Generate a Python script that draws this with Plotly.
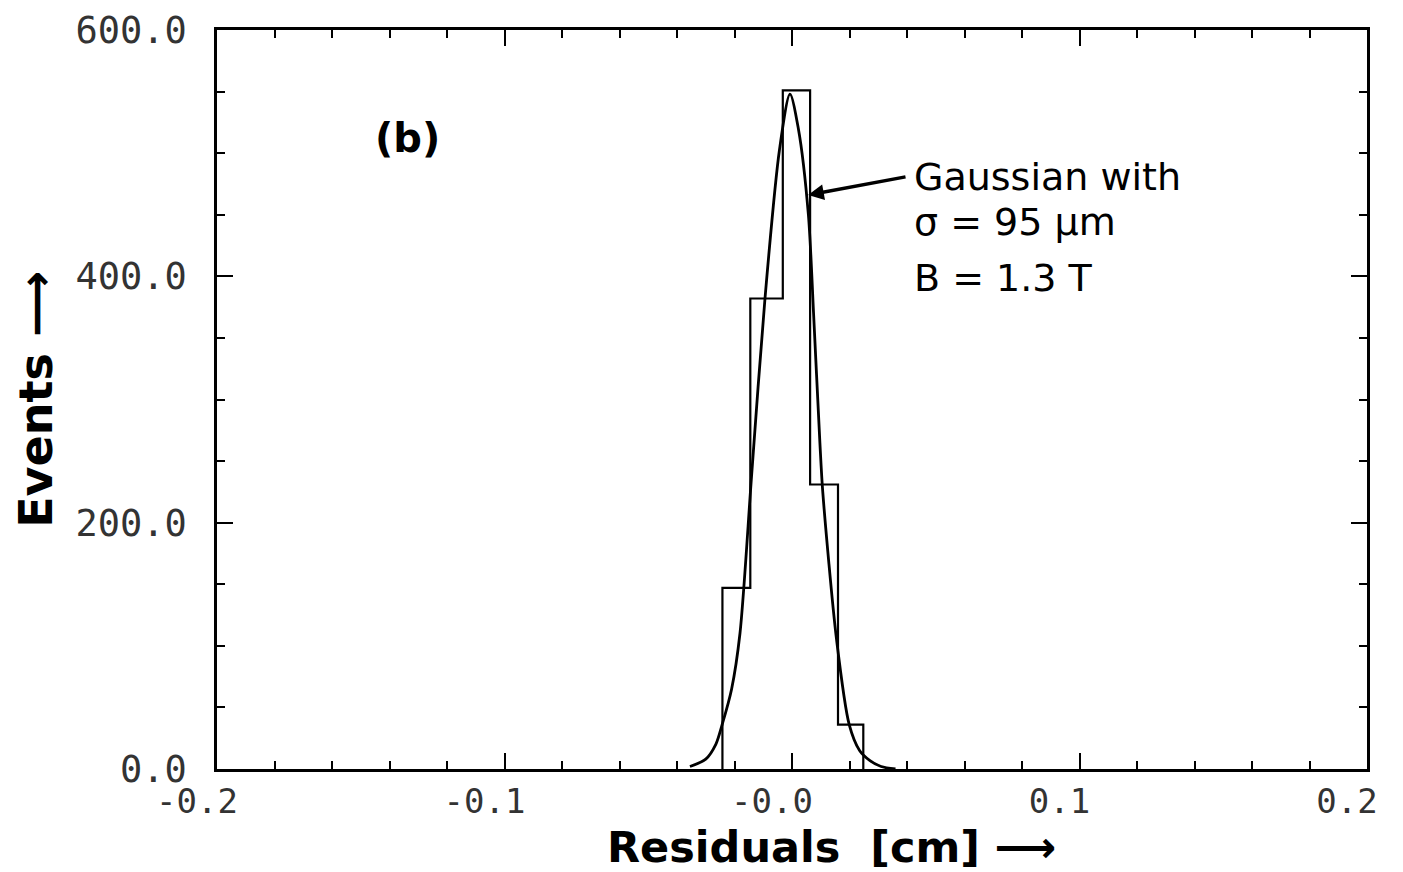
import plotly.graph_objects as go

# histogram of residuals (bin edges in cm, counts per bin)
bin_edges = [-0.0242, -0.0145, -0.0032, 0.0063, 0.0160, 0.0248]
counts = [147, 382, 551, 231, 36]

# gaussian fit
fit_x = [-0.0355, -0.030, -0.0265, -0.0243, -0.0210, -0.0181, -0.0140, -0.0094,
         -0.0044, -0.0007, 0.0022, 0.0057, 0.0075, 0.0097, 0.0107, 0.0155,
         0.0199, 0.0235, 0.0270, 0.031, 0.036]
fit_y = [2, 8, 20, 36, 65, 110, 240, 382,
         502, 548, 520, 450, 370, 265, 225, 105,
         36, 15, 7, 2, 0]

x_ticks = [-0.2, -0.1, 0.0, 0.1, 0.2]
x_labels = ["-0.2", "-0.1", "-0.0", "0.1", "0.2"]
y_ticks = [0, 200, 400, 600]
y_labels = ["0.0", "200.0", "400.0", "600.0"]

# closed step outline of the histogram
step_x = [bin_edges[0]] + bin_edges + [bin_edges[-1]]
step_y = [0] + counts + [counts[-1], 0]

fig = go.Figure()
fig.add_trace(
    go.Scatter(
        x=step_x,
        y=step_y,
        mode="lines",
        line=dict(color="black", width=2.2, shape="hv"),
        showlegend=False,
    ),
)
fig.add_trace(
    go.Scatter(
        x=fit_x,
        y=fit_y,
        mode="lines",
        line=dict(color="black", width=2.8, shape="spline", smoothing=0.8),
        showlegend=False,
    ),
)

txt_font = dict(family="DejaVu Sans", size=38, color="black")
fig.add_annotation(x=-0.1336, y=512, text="<b>(b)</b>", showarrow=False,
                   font=dict(family="DejaVu Sans", size=40, color="black"))
fig.add_annotation(x=0.0056, y=466, ax=0.0400, ay=481, axref="x", ayref="y",
                   text="", showarrow=True, arrowhead=2, arrowwidth=3.5,
                   arrowsize=0.9, arrowcolor="black")
fig.add_annotation(x=0.0417, y=481, text="Gaussian with", showarrow=False,
                   xanchor="left", yanchor="middle", font=txt_font)
fig.add_annotation(x=0.0417, y=444, text="σ = 95 µm", showarrow=False,
                   xanchor="left", yanchor="middle", font=txt_font)
fig.add_annotation(x=0.0417, y=399, text="B = 1.3 T", showarrow=False,
                   xanchor="left", yanchor="middle", font=txt_font)

# axis titles
fig.add_annotation(x=0.535, y=-0.106, xref="paper", yref="paper",
                   xanchor="center", yanchor="middle",
                   text="<b>Residuals  [cm] ⟶</b>", showarrow=False,
                   font=dict(family="DejaVu Sans", size=43, color="black"))
fig.add_annotation(x=-0.158, y=0.5, xref="paper", yref="paper", textangle=-90,
                   xanchor="center", yanchor="middle",
                   text="<b>Events ⟶</b>", showarrow=False,
                   font=dict(family="DejaVu Sans", size=46, color="black"))

fig.update_xaxes(
    range=[-0.2, 0.2],
    tickvals=x_ticks,
    ticktext=x_labels,
    ticks="inside",
    ticklen=16,
    tickwidth=2,
    tickcolor="black",
    minor=dict(dtick=0.02, ticks="inside", ticklen=8, tickwidth=1.5, tickcolor="black"),
    showline=True,
    linecolor="black",
    linewidth=2.5,
    mirror="ticks",
    showgrid=False,
    zeroline=False,
    automargin=False,
    tickfont=dict(family="DejaVu Sans Mono", size=34, color="#333"),
    ticklabelshift=-20,
    ticklabelstandoff=0,
)
fig.update_yaxes(
    range=[0, 600],
    tickvals=y_ticks,
    ticktext=y_labels,
    ticks="inside",
    ticklen=16,
    tickwidth=2,
    tickcolor="black",
    minor=dict(dtick=50, ticks="inside", ticklen=8, tickwidth=1.5, tickcolor="black"),
    showline=True,
    linecolor="black",
    linewidth=2.5,
    mirror="ticks",
    showgrid=False,
    zeroline=False,
    automargin=False,
    tickfont=dict(family="DejaVu Sans Mono", size=37, color="#333"),
    ticklabelstandoff=20,
)
fig.update_layout(
    width=1403,
    height=872,
    margin=dict(l=209, r=44, t=22, b=111),
    plot_bgcolor="white",
    paper_bgcolor="white",
)
fig.write_html("out.html")
